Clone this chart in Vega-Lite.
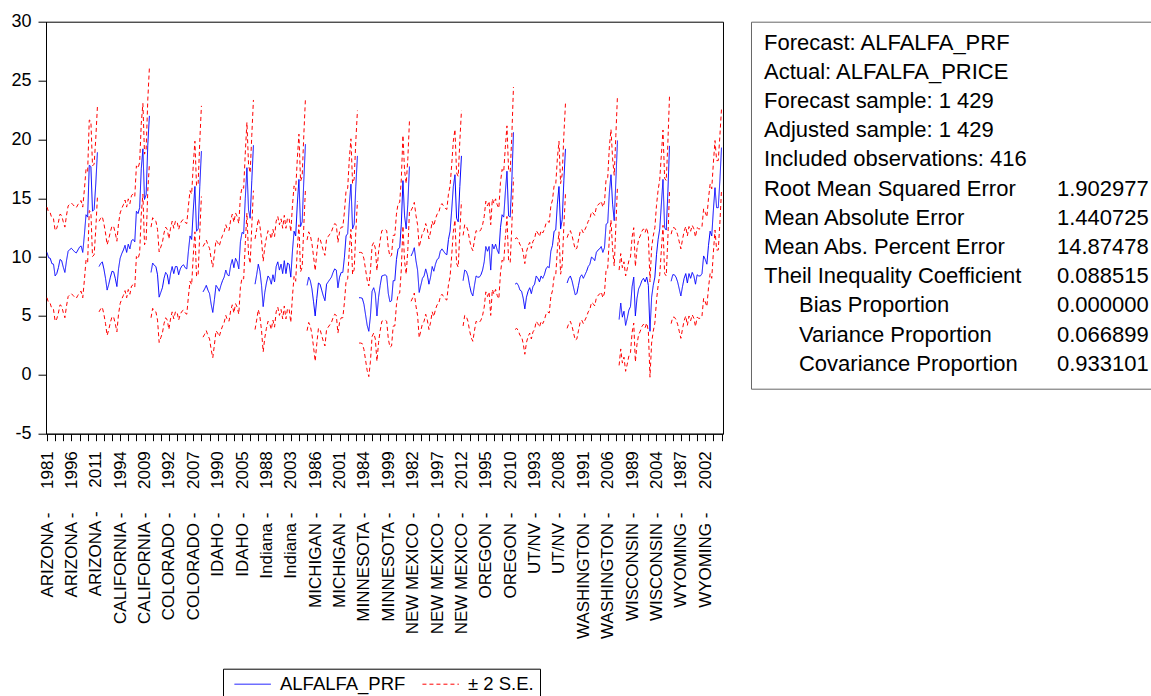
{
"$schema": "https://vega.github.io/schema/vega-lite/v6.json",
"padding": {"left": 10, "top": 11.7, "right": 0, "bottom": 0},
"spacing": 19,
"config": {
  "font": "Liberation Sans",
  "axis": {"labelFont": "Liberation Sans", "labelColor": "#000", "domainColor": "#000", "tickColor": "#000", "grid": false, "domainWidth": 1, "tickWidth": 1},
  "text": {"font": "Liberation Sans"}
},
"hconcat": [
{
  "width": 677,
  "height": 412,
  "view": {"stroke": "#000", "strokeWidth": 1},
  "data": {"values": [
{"i":1,"s":"AZ","f":10.4,"u":14.25,"l":6.55},{"i":2,"s":"AZ","f":9.95,"u":13.8,"l":6.1},{"i":3,"s":"AZ","f":9.9,"u":13.75,"l":6.05},{"i":4,"s":"AZ","f":9.45,"u":13.3,"l":5.6},{"i":5,"s":"AZ","f":9.4,"u":13.25,"l":5.55},{"i":6,"s":"AZ","f":8.4,"u":12.25,"l":4.55},{"i":7,"s":"AZ","f":8.6,"u":12.45,"l":4.75},{"i":8,"s":"AZ","f":9.1,"u":12.95,"l":5.25},{"i":9,"s":"AZ","f":9.8,"u":13.65,"l":5.95},{"i":10,"s":"AZ","f":9.7,"u":13.55,"l":5.85},{"i":11,"s":"AZ","f":9.15,"u":13.0,"l":5.3},{"i":12,"s":"AZ","f":8.7,"u":12.55,"l":4.85},{"i":13,"s":"AZ","f":9.7,"u":13.55,"l":5.85},{"i":14,"s":"AZ","f":10.5,"u":14.35,"l":6.65},{"i":15,"s":"AZ","f":10.65,"u":14.5,"l":6.8},{"i":16,"s":"AZ","f":10.75,"u":14.6,"l":6.9},{"i":17,"s":"AZ","f":10.6,"u":14.45,"l":6.75},{"i":18,"s":"AZ","f":10.45,"u":14.3,"l":6.6},{"i":19,"s":"AZ","f":10.35,"u":14.2,"l":6.5},{"i":20,"s":"AZ","f":10.6,"u":14.45,"l":6.75},{"i":21,"s":"AZ","f":10.85,"u":14.7,"l":7.0},{"i":22,"s":"AZ","f":10.95,"u":14.8,"l":7.1},{"i":23,"s":"AZ","f":10.4,"u":14.25,"l":6.55},{"i":24,"s":"AZ","f":11.9,"u":15.75,"l":8.05},{"i":25,"s":"AZ","f":13.6,"u":17.45,"l":9.75},{"i":26,"s":"AZ","f":13.4,"u":17.25,"l":9.55},{"i":27,"s":"AZ","f":17.8,"u":21.65,"l":13.95},{"i":28,"s":"AZ","f":17.7,"u":21.55,"l":13.85},{"i":29,"s":"AZ","f":13.9,"u":17.75,"l":10.05},{"i":30,"s":"AZ","f":14.05,"u":17.9,"l":10.2},{"i":31,"s":"AZ","f":16.2,"u":20.05,"l":12.35},{"i":32,"s":"AZ","f":18.9,"u":22.75,"l":15.05},
{"i":33,"s":"CA","f":9.2,"u":13.05,"l":5.35},{"i":34,"s":"CA","f":9.45,"u":13.3,"l":5.6},{"i":35,"s":"CA","f":9.6,"u":13.45,"l":5.75},{"i":36,"s":"CA","f":9.0,"u":12.85,"l":5.15},{"i":37,"s":"CA","f":8.2,"u":12.05,"l":4.35},{"i":38,"s":"CA","f":7.2,"u":11.05,"l":3.35},{"i":39,"s":"CA","f":7.7,"u":11.55,"l":3.85},{"i":40,"s":"CA","f":8.3,"u":12.15,"l":4.45},{"i":41,"s":"CA","f":8.8,"u":12.65,"l":4.95},{"i":42,"s":"CA","f":8.75,"u":12.6,"l":4.9},{"i":43,"s":"CA","f":8.2,"u":12.05,"l":4.35},{"i":44,"s":"CA","f":7.5,"u":11.35,"l":3.65},{"i":45,"s":"CA","f":9.0,"u":12.85,"l":5.15},{"i":46,"s":"CA","f":9.9,"u":13.75,"l":6.05},{"i":47,"s":"CA","f":10.3,"u":14.15,"l":6.45},{"i":48,"s":"CA","f":10.6,"u":14.45,"l":6.75},{"i":49,"s":"CA","f":11.0,"u":14.85,"l":7.15},{"i":50,"s":"CA","f":10.4,"u":14.25,"l":6.55},{"i":51,"s":"CA","f":11.1,"u":14.95,"l":7.25},{"i":52,"s":"CA","f":10.7,"u":14.55,"l":6.85},{"i":53,"s":"CA","f":11.4,"u":15.25,"l":7.55},{"i":54,"s":"CA","f":11.5,"u":15.35,"l":7.65},{"i":55,"s":"CA","f":11.3,"u":15.15,"l":7.45},{"i":56,"s":"CA","f":13.9,"u":17.75,"l":10.05},{"i":57,"s":"CA","f":13.7,"u":17.55,"l":9.85},{"i":58,"s":"CA","f":14.2,"u":18.05,"l":10.35},{"i":59,"s":"CA","f":17.5,"u":21.35,"l":13.65},{"i":60,"s":"CA","f":19.2,"u":23.05,"l":15.35},{"i":61,"s":"CA","f":14.9,"u":18.75,"l":11.05},{"i":62,"s":"CA","f":15.3,"u":19.15,"l":11.45},{"i":63,"s":"CA","f":19.5,"u":23.35,"l":15.65},{"i":64,"s":"CA","f":22.0,"u":26.1,"l":17.9},
{"i":65,"s":"CO","f":8.7,"u":12.55,"l":4.85},{"i":66,"s":"CO","f":9.5,"u":13.35,"l":5.65},{"i":67,"s":"CO","f":9.3,"u":13.15,"l":5.45},{"i":68,"s":"CO","f":9.2,"u":13.05,"l":5.35},{"i":69,"s":"CO","f":8.5,"u":12.35,"l":4.65},{"i":70,"s":"CO","f":6.6,"u":10.45,"l":2.75},{"i":71,"s":"CO","f":7.0,"u":10.85,"l":3.15},{"i":72,"s":"CO","f":7.4,"u":11.25,"l":3.55},{"i":73,"s":"CO","f":8.2,"u":12.05,"l":4.35},{"i":74,"s":"CO","f":8.7,"u":12.55,"l":4.85},{"i":75,"s":"CO","f":8.5,"u":12.35,"l":4.65},{"i":76,"s":"CO","f":7.7,"u":11.55,"l":3.85},{"i":77,"s":"CO","f":8.6,"u":12.45,"l":4.75},{"i":78,"s":"CO","f":9.2,"u":13.05,"l":5.35},{"i":79,"s":"CO","f":8.6,"u":12.45,"l":4.75},{"i":80,"s":"CO","f":9.2,"u":13.05,"l":5.35},{"i":81,"s":"CO","f":9.2,"u":13.05,"l":5.35},{"i":82,"s":"CO","f":8.5,"u":12.35,"l":4.65},{"i":83,"s":"CO","f":9.0,"u":12.85,"l":5.15},{"i":84,"s":"CO","f":9.25,"u":13.1,"l":5.4},{"i":85,"s":"CO","f":9.35,"u":13.2,"l":5.5},{"i":86,"s":"CO","f":9.1,"u":12.95,"l":5.25},{"i":87,"s":"CO","f":9.0,"u":12.85,"l":5.15},{"i":88,"s":"CO","f":10.5,"u":14.35,"l":6.65},{"i":89,"s":"CO","f":11.8,"u":15.65,"l":7.95},{"i":90,"s":"CO","f":11.5,"u":15.35,"l":7.65},{"i":91,"s":"CO","f":14.0,"u":17.85,"l":10.15},{"i":92,"s":"CO","f":16.0,"u":19.85,"l":12.15},{"i":93,"s":"CO","f":12.2,"u":16.05,"l":8.35},{"i":94,"s":"CO","f":12.4,"u":16.25,"l":8.55},{"i":95,"s":"CO","f":16.0,"u":19.85,"l":12.15},{"i":96,"s":"CO","f":19.0,"u":22.85,"l":15.15},
{"i":97,"s":"ID","f":7.05,"u":10.9,"l":3.2},{"i":98,"s":"ID","f":7.3,"u":11.15,"l":3.45},{"i":99,"s":"ID","f":7.6,"u":11.45,"l":3.75},{"i":100,"s":"ID","f":7.2,"u":11.05,"l":3.35},{"i":101,"s":"ID","f":6.9,"u":10.75,"l":3.05},{"i":102,"s":"ID","f":6.0,"u":9.85,"l":2.15},{"i":103,"s":"ID","f":5.3,"u":9.15,"l":1.45},{"i":104,"s":"ID","f":6.4,"u":10.25,"l":2.55},{"i":105,"s":"ID","f":7.6,"u":11.45,"l":3.75},{"i":106,"s":"ID","f":7.4,"u":11.25,"l":3.55},{"i":107,"s":"ID","f":7.1,"u":10.95,"l":3.25},{"i":108,"s":"ID","f":7.6,"u":11.45,"l":3.75},{"i":109,"s":"ID","f":8.0,"u":11.85,"l":4.15},{"i":110,"s":"ID","f":8.3,"u":12.15,"l":4.45},{"i":111,"s":"ID","f":8.9,"u":12.75,"l":5.05},{"i":112,"s":"ID","f":8.5,"u":12.35,"l":4.65},{"i":113,"s":"ID","f":8.4,"u":12.25,"l":4.55},{"i":114,"s":"ID","f":9.3,"u":13.15,"l":5.45},{"i":115,"s":"ID","f":9.8,"u":13.65,"l":5.95},{"i":116,"s":"ID","f":9.1,"u":12.95,"l":5.25},{"i":117,"s":"ID","f":9.9,"u":13.75,"l":6.05},{"i":118,"s":"ID","f":9.6,"u":13.45,"l":5.75},{"i":119,"s":"ID","f":9.0,"u":12.85,"l":5.15},{"i":120,"s":"ID","f":11.3,"u":15.15,"l":7.45},{"i":121,"s":"ID","f":12.1,"u":15.95,"l":8.25},{"i":122,"s":"ID","f":12.0,"u":15.85,"l":8.15},{"i":123,"s":"ID","f":15.0,"u":18.85,"l":11.15},{"i":124,"s":"ID","f":17.6,"u":21.45,"l":13.75},{"i":125,"s":"ID","f":14.0,"u":17.85,"l":10.15},{"i":126,"s":"ID","f":13.3,"u":17.15,"l":9.45},{"i":127,"s":"ID","f":16.5,"u":20.35,"l":12.65},{"i":128,"s":"ID","f":19.5,"u":23.35,"l":15.65},
{"i":129,"s":"IN","f":7.7,"u":11.55,"l":3.85},{"i":130,"s":"IN","f":8.5,"u":12.35,"l":4.65},{"i":131,"s":"IN","f":9.4,"u":13.25,"l":5.55},{"i":132,"s":"IN","f":8.8,"u":12.65,"l":4.95},{"i":133,"s":"IN","f":7.6,"u":11.45,"l":3.75},{"i":134,"s":"IN","f":5.8,"u":9.65,"l":1.95},{"i":135,"s":"IN","f":7.0,"u":10.85,"l":3.15},{"i":136,"s":"IN","f":7.8,"u":11.65,"l":3.95},{"i":137,"s":"IN","f":8.4,"u":12.25,"l":4.55},{"i":138,"s":"IN","f":8.2,"u":12.05,"l":4.35},{"i":139,"s":"IN","f":7.7,"u":11.55,"l":3.85},{"i":140,"s":"IN","f":8.5,"u":12.35,"l":4.65},{"i":141,"s":"IN","f":7.9,"u":11.75,"l":4.05},{"i":142,"s":"IN","f":9.2,"u":13.05,"l":5.35},{"i":143,"s":"IN","f":9.6,"u":13.45,"l":5.75},{"i":144,"s":"IN","f":8.9,"u":12.75,"l":5.05},{"i":145,"s":"IN","f":9.4,"u":13.25,"l":5.55},{"i":146,"s":"IN","f":8.6,"u":12.45,"l":4.75},{"i":147,"s":"IN","f":9.7,"u":13.55,"l":5.85},{"i":148,"s":"IN","f":8.6,"u":12.45,"l":4.75},{"i":149,"s":"IN","f":9.5,"u":13.35,"l":5.65},{"i":150,"s":"IN","f":9.4,"u":13.25,"l":5.55},{"i":151,"s":"IN","f":8.3,"u":12.15,"l":4.45},{"i":152,"s":"IN","f":10.5,"u":14.35,"l":6.65},{"i":153,"s":"IN","f":12.2,"u":16.05,"l":8.35},{"i":154,"s":"IN","f":11.8,"u":15.65,"l":7.95},{"i":155,"s":"IN","f":14.5,"u":18.35,"l":10.65},{"i":156,"s":"IN","f":16.6,"u":20.45,"l":12.75},{"i":157,"s":"IN","f":12.6,"u":16.45,"l":8.75},{"i":158,"s":"IN","f":13.0,"u":16.85,"l":9.15},{"i":159,"s":"IN","f":16.5,"u":20.35,"l":12.65},{"i":160,"s":"IN","f":19.6,"u":23.45,"l":15.75},
{"i":161,"s":"MI","f":7.6,"u":11.45,"l":3.75},{"i":162,"s":"MI","f":8.3,"u":12.15,"l":4.45},{"i":163,"s":"MI","f":8.0,"u":11.85,"l":4.15},{"i":164,"s":"MI","f":7.3,"u":11.15,"l":3.45},{"i":165,"s":"MI","f":6.2,"u":10.05,"l":2.35},{"i":166,"s":"MI","f":5.0,"u":8.85,"l":1.15},{"i":167,"s":"MI","f":6.5,"u":10.35,"l":2.65},{"i":168,"s":"MI","f":7.8,"u":11.65,"l":3.95},{"i":169,"s":"MI","f":7.7,"u":11.55,"l":3.85},{"i":170,"s":"MI","f":7.2,"u":11.05,"l":3.35},{"i":171,"s":"MI","f":6.7,"u":10.55,"l":2.85},{"i":172,"s":"MI","f":6.3,"u":10.15,"l":2.45},{"i":173,"s":"MI","f":7.7,"u":11.55,"l":3.85},{"i":174,"s":"MI","f":7.9,"u":11.75,"l":4.05},{"i":175,"s":"MI","f":8.1,"u":11.95,"l":4.25},{"i":176,"s":"MI","f":8.3,"u":12.15,"l":4.45},{"i":177,"s":"MI","f":8.7,"u":12.55,"l":4.85},{"i":178,"s":"MI","f":9.0,"u":12.85,"l":5.15},{"i":179,"s":"MI","f":8.9,"u":12.75,"l":5.05},{"i":180,"s":"MI","f":7.4,"u":11.25,"l":3.55},{"i":181,"s":"MI","f":8.3,"u":12.15,"l":4.45},{"i":182,"s":"MI","f":8.7,"u":12.55,"l":4.85},{"i":183,"s":"MI","f":8.7,"u":12.55,"l":4.85},{"i":184,"s":"MI","f":10.0,"u":13.85,"l":6.15},{"i":185,"s":"MI","f":11.8,"u":15.65,"l":7.95},{"i":186,"s":"MI","f":12.0,"u":15.85,"l":8.15},{"i":187,"s":"MI","f":14.5,"u":18.35,"l":10.65},{"i":188,"s":"MI","f":16.2,"u":20.05,"l":12.35},{"i":189,"s":"MI","f":12.4,"u":16.25,"l":8.55},{"i":190,"s":"MI","f":12.8,"u":16.65,"l":8.95},{"i":191,"s":"MI","f":16.0,"u":19.85,"l":12.15},{"i":192,"s":"MI","f":18.6,"u":22.45,"l":14.75},
{"i":193,"s":"MN","f":6.55,"u":10.4,"l":2.7},{"i":194,"s":"MN","f":6.55,"u":10.4,"l":2.7},{"i":195,"s":"MN","f":6.5,"u":10.35,"l":2.65},{"i":196,"s":"MN","f":6.0,"u":9.85,"l":2.15},{"i":197,"s":"MN","f":5.1,"u":8.95,"l":1.25},{"i":198,"s":"MN","f":4.2,"u":8.05,"l":0.35},{"i":199,"s":"MN","f":3.7,"u":7.55,"l":-0.15},{"i":200,"s":"MN","f":5.0,"u":8.85,"l":1.15},{"i":201,"s":"MN","f":7.1,"u":10.95,"l":3.25},{"i":202,"s":"MN","f":7.4,"u":11.25,"l":3.55},{"i":203,"s":"MN","f":6.9,"u":10.75,"l":3.05},{"i":204,"s":"MN","f":5.0,"u":8.85,"l":1.15},{"i":205,"s":"MN","f":6.6,"u":10.45,"l":2.75},{"i":206,"s":"MN","f":7.6,"u":11.45,"l":3.75},{"i":207,"s":"MN","f":8.4,"u":12.25,"l":4.55},{"i":208,"s":"MN","f":8.45,"u":12.3,"l":4.6},{"i":209,"s":"MN","f":8.5,"u":12.35,"l":4.65},{"i":210,"s":"MN","f":8.4,"u":12.25,"l":4.55},{"i":211,"s":"MN","f":6.9,"u":10.75,"l":3.05},{"i":212,"s":"MN","f":6.2,"u":10.05,"l":2.35},{"i":213,"s":"MN","f":6.3,"u":10.15,"l":2.45},{"i":214,"s":"MN","f":8.0,"u":11.85,"l":4.15},{"i":215,"s":"MN","f":8.0,"u":11.85,"l":4.15},{"i":216,"s":"MN","f":9.8,"u":13.65,"l":5.95},{"i":217,"s":"MN","f":10.7,"u":14.55,"l":6.85},{"i":218,"s":"MN","f":10.8,"u":14.65,"l":6.95},{"i":219,"s":"MN","f":12.8,"u":16.65,"l":8.95},{"i":220,"s":"MN","f":16.5,"u":20.35,"l":12.65},{"i":221,"s":"MN","f":13.5,"u":17.35,"l":9.65},{"i":222,"s":"MN","f":12.4,"u":16.25,"l":8.55},{"i":223,"s":"MN","f":14.5,"u":18.35,"l":10.65},{"i":224,"s":"MN","f":17.7,"u":21.55,"l":13.85},
{"i":225,"s":"NM","f":10.1,"u":13.95,"l":6.25},{"i":226,"s":"NM","f":10.4,"u":14.25,"l":6.55},{"i":227,"s":"NM","f":10.8,"u":14.65,"l":6.95},{"i":228,"s":"NM","f":9.7,"u":13.55,"l":5.85},{"i":229,"s":"NM","f":8.9,"u":12.75,"l":5.05},{"i":230,"s":"NM","f":7.0,"u":10.85,"l":3.15},{"i":231,"s":"NM","f":7.6,"u":11.45,"l":3.75},{"i":232,"s":"NM","f":8.2,"u":12.05,"l":4.35},{"i":233,"s":"NM","f":8.4,"u":12.25,"l":4.55},{"i":234,"s":"NM","f":9.0,"u":12.85,"l":5.15},{"i":235,"s":"NM","f":8.5,"u":12.35,"l":4.65},{"i":236,"s":"NM","f":7.7,"u":11.55,"l":3.85},{"i":237,"s":"NM","f":8.3,"u":12.15,"l":4.45},{"i":238,"s":"NM","f":9.2,"u":13.05,"l":5.35},{"i":239,"s":"NM","f":8.8,"u":12.65,"l":4.95},{"i":240,"s":"NM","f":9.4,"u":13.25,"l":5.55},{"i":241,"s":"NM","f":9.8,"u":13.65,"l":5.95},{"i":242,"s":"NM","f":9.9,"u":13.75,"l":6.05},{"i":243,"s":"NM","f":10.5,"u":14.35,"l":6.65},{"i":244,"s":"NM","f":10.7,"u":14.55,"l":6.85},{"i":245,"s":"NM","f":10.5,"u":14.35,"l":6.65},{"i":246,"s":"NM","f":10.3,"u":14.15,"l":6.45},{"i":247,"s":"NM","f":10.2,"u":14.05,"l":6.35},{"i":248,"s":"NM","f":11.5,"u":15.35,"l":7.65},{"i":249,"s":"NM","f":12.2,"u":16.05,"l":8.35},{"i":250,"s":"NM","f":14.0,"u":17.85,"l":10.15},{"i":251,"s":"NM","f":16.0,"u":19.85,"l":12.15},{"i":252,"s":"NM","f":17.0,"u":20.85,"l":13.15},{"i":253,"s":"NM","f":13.3,"u":17.15,"l":9.45},{"i":254,"s":"NM","f":13.0,"u":16.85,"l":9.15},{"i":255,"s":"NM","f":16.0,"u":19.85,"l":12.15},{"i":256,"s":"NM","f":18.6,"u":22.45,"l":14.75},
{"i":257,"s":"OR","f":8.0,"u":11.85,"l":4.15},{"i":258,"s":"OR","f":8.9,"u":12.75,"l":5.05},{"i":259,"s":"OR","f":8.8,"u":12.65,"l":4.95},{"i":260,"s":"OR","f":8.4,"u":12.25,"l":4.55},{"i":261,"s":"OR","f":7.6,"u":11.45,"l":3.75},{"i":262,"s":"OR","f":7.0,"u":10.85,"l":3.15},{"i":263,"s":"OR","f":6.7,"u":10.55,"l":2.85},{"i":264,"s":"OR","f":7.6,"u":11.45,"l":3.75},{"i":265,"s":"OR","f":8.4,"u":12.25,"l":4.55},{"i":266,"s":"OR","f":8.3,"u":12.15,"l":4.45},{"i":267,"s":"OR","f":8.3,"u":12.15,"l":4.45},{"i":268,"s":"OR","f":8.5,"u":12.35,"l":4.65},{"i":269,"s":"OR","f":8.9,"u":12.75,"l":5.05},{"i":270,"s":"OR","f":9.6,"u":13.45,"l":5.75},{"i":271,"s":"OR","f":10.9,"u":14.75,"l":7.05},{"i":272,"s":"OR","f":10.5,"u":14.35,"l":6.65},{"i":273,"s":"OR","f":10.9,"u":14.75,"l":7.05},{"i":274,"s":"OR","f":8.9,"u":12.75,"l":5.05},{"i":275,"s":"OR","f":11.1,"u":14.95,"l":7.25},{"i":276,"s":"OR","f":10.7,"u":14.55,"l":6.85},{"i":277,"s":"OR","f":11.1,"u":14.95,"l":7.25},{"i":278,"s":"OR","f":10.6,"u":14.45,"l":6.75},{"i":279,"s":"OR","f":10.3,"u":14.15,"l":6.45},{"i":280,"s":"OR","f":12.5,"u":16.35,"l":8.65},{"i":281,"s":"OR","f":13.6,"u":17.45,"l":9.75},{"i":282,"s":"OR","f":13.4,"u":17.25,"l":9.55},{"i":283,"s":"OR","f":15.5,"u":19.35,"l":11.65},{"i":284,"s":"OR","f":17.3,"u":21.15,"l":13.45},{"i":285,"s":"OR","f":13.5,"u":17.35,"l":9.65},{"i":286,"s":"OR","f":13.4,"u":17.25,"l":9.55},{"i":287,"s":"OR","f":16.5,"u":20.35,"l":12.65},{"i":288,"s":"OR","f":20.6,"u":24.45,"l":16.75},
{"i":289,"s":"UT","f":7.7,"u":11.55,"l":3.85},{"i":290,"s":"UT","f":7.8,"u":11.65,"l":3.95},{"i":291,"s":"UT","f":7.6,"u":11.45,"l":3.75},{"i":292,"s":"UT","f":7.2,"u":11.05,"l":3.35},{"i":293,"s":"UT","f":7.1,"u":10.95,"l":3.25},{"i":294,"s":"UT","f":6.5,"u":10.35,"l":2.65},{"i":295,"s":"UT","f":5.6,"u":9.45,"l":1.75},{"i":296,"s":"UT","f":6.6,"u":10.45,"l":2.75},{"i":297,"s":"UT","f":7.1,"u":10.95,"l":3.25},{"i":298,"s":"UT","f":7.4,"u":11.25,"l":3.55},{"i":299,"s":"UT","f":6.9,"u":10.75,"l":3.05},{"i":300,"s":"UT","f":7.5,"u":11.35,"l":3.65},{"i":301,"s":"UT","f":7.7,"u":11.55,"l":3.85},{"i":302,"s":"UT","f":8.4,"u":12.25,"l":4.55},{"i":303,"s":"UT","f":8.2,"u":12.05,"l":4.35},{"i":304,"s":"UT","f":7.9,"u":11.75,"l":4.05},{"i":305,"s":"UT","f":8.4,"u":12.25,"l":4.55},{"i":306,"s":"UT","f":8.2,"u":12.05,"l":4.35},{"i":307,"s":"UT","f":8.5,"u":12.35,"l":4.65},{"i":308,"s":"UT","f":9.0,"u":12.85,"l":5.15},{"i":309,"s":"UT","f":9.2,"u":13.05,"l":5.35},{"i":310,"s":"UT","f":9.1,"u":12.95,"l":5.25},{"i":311,"s":"UT","f":10.5,"u":14.35,"l":6.65},{"i":312,"s":"UT","f":11.0,"u":14.85,"l":7.15},{"i":313,"s":"UT","f":12.2,"u":16.05,"l":8.35},{"i":314,"s":"UT","f":12.3,"u":16.15,"l":8.45},{"i":315,"s":"UT","f":14.5,"u":18.35,"l":10.65},{"i":316,"s":"UT","f":16.0,"u":19.85,"l":12.15},{"i":317,"s":"UT","f":12.4,"u":16.25,"l":8.55},{"i":318,"s":"UT","f":13.2,"u":17.05,"l":9.35},{"i":319,"s":"UT","f":16.5,"u":20.35,"l":12.65},{"i":320,"s":"UT","f":19.2,"u":23.05,"l":15.35},
{"i":321,"s":"WA","f":7.8,"u":11.65,"l":3.95},{"i":322,"s":"WA","f":8.2,"u":12.05,"l":4.35},{"i":323,"s":"WA","f":8.4,"u":12.25,"l":4.55},{"i":324,"s":"WA","f":8.0,"u":11.85,"l":4.15},{"i":325,"s":"WA","f":7.4,"u":11.25,"l":3.55},{"i":326,"s":"WA","f":6.8,"u":10.65,"l":2.95},{"i":327,"s":"WA","f":6.9,"u":10.75,"l":3.05},{"i":328,"s":"WA","f":7.6,"u":11.45,"l":3.75},{"i":329,"s":"WA","f":8.3,"u":12.15,"l":4.45},{"i":330,"s":"WA","f":8.5,"u":12.35,"l":4.65},{"i":331,"s":"WA","f":8.2,"u":12.05,"l":4.35},{"i":332,"s":"WA","f":8.5,"u":12.35,"l":4.65},{"i":333,"s":"WA","f":8.8,"u":12.65,"l":4.95},{"i":334,"s":"WA","f":9.2,"u":13.05,"l":5.35},{"i":335,"s":"WA","f":9.4,"u":13.25,"l":5.55},{"i":336,"s":"WA","f":10.0,"u":13.85,"l":6.15},{"i":337,"s":"WA","f":9.9,"u":13.75,"l":6.05},{"i":338,"s":"WA","f":9.7,"u":13.55,"l":5.85},{"i":339,"s":"WA","f":10.4,"u":14.25,"l":6.55},{"i":340,"s":"WA","f":10.6,"u":14.45,"l":6.75},{"i":341,"s":"WA","f":10.7,"u":14.55,"l":6.85},{"i":342,"s":"WA","f":10.9,"u":14.75,"l":7.05},{"i":343,"s":"WA","f":10.4,"u":14.25,"l":6.55},{"i":344,"s":"WA","f":10.8,"u":14.65,"l":6.95},{"i":345,"s":"WA","f":12.8,"u":16.65,"l":8.95},{"i":346,"s":"WA","f":12.9,"u":16.75,"l":9.05},{"i":347,"s":"WA","f":15.5,"u":19.35,"l":11.65},{"i":348,"s":"WA","f":17.0,"u":20.85,"l":13.15},{"i":349,"s":"WA","f":14.5,"u":18.35,"l":10.65},{"i":350,"s":"WA","f":13.1,"u":16.95,"l":9.25},{"i":351,"s":"WA","f":16.5,"u":20.35,"l":12.65},{"i":352,"s":"WA","f":19.9,"u":23.75,"l":16.05},
{"i":353,"s":"WI","f":4.7,"u":8.9,"l":0.8},{"i":354,"s":"WI","f":6.1,"u":10.3,"l":2.2},{"i":355,"s":"WI","f":4.9,"u":9.1,"l":1.0},{"i":356,"s":"WI","f":5.4,"u":9.6,"l":1.5},{"i":357,"s":"WI","f":4.2,"u":8.4,"l":0.3},{"i":358,"s":"WI","f":4.8,"u":9.0,"l":0.9},{"i":359,"s":"WI","f":5.5,"u":9.7,"l":1.6},{"i":360,"s":"WI","f":5.8,"u":10.0,"l":1.9},{"i":361,"s":"WI","f":7.5,"u":11.7,"l":3.6},{"i":362,"s":"WI","f":8.3,"u":12.5,"l":4.4},{"i":363,"s":"WI","f":5.0,"u":9.2,"l":1.1},{"i":364,"s":"WI","f":6.5,"u":10.7,"l":2.6},{"i":365,"s":"WI","f":7.3,"u":11.5,"l":3.4},{"i":366,"s":"WI","f":7.6,"u":11.8,"l":3.7},{"i":367,"s":"WI","f":8.0,"u":12.2,"l":4.1},{"i":368,"s":"WI","f":8.2,"u":12.4,"l":4.3},{"i":369,"s":"WI","f":7.9,"u":12.1,"l":4.0},{"i":370,"s":"WI","f":8.3,"u":12.5,"l":4.4},{"i":371,"s":"WI","f":7.6,"u":11.8,"l":3.7},{"i":372,"s":"WI","f":3.7,"u":7.9,"l":-0.2},{"i":373,"s":"WI","f":6.6,"u":10.8,"l":2.7},{"i":374,"s":"WI","f":7.6,"u":11.8,"l":3.7},{"i":375,"s":"WI","f":8.3,"u":12.5,"l":4.4},{"i":376,"s":"WI","f":10.2,"u":14.4,"l":6.3},{"i":377,"s":"WI","f":11.5,"u":15.7,"l":7.6},{"i":378,"s":"WI","f":12.4,"u":16.6,"l":8.5},{"i":379,"s":"WI","f":14.5,"u":18.7,"l":10.6},{"i":380,"s":"WI","f":16.6,"u":20.8,"l":12.7},{"i":381,"s":"WI","f":12.5,"u":16.7,"l":8.6},{"i":382,"s":"WI","f":12.3,"u":16.5,"l":8.4},{"i":383,"s":"WI","f":15.5,"u":19.7,"l":11.6},{"i":384,"s":"WI","f":19.45,"u":23.65,"l":15.55},
{"i":385,"s":"WY","f":7.95,"u":11.95,"l":4.35},{"i":386,"s":"WY","f":8.5,"u":12.5,"l":4.9},{"i":387,"s":"WY","f":8.5,"u":12.5,"l":4.9},{"i":388,"s":"WY","f":8.3,"u":12.3,"l":4.7},{"i":389,"s":"WY","f":7.9,"u":11.9,"l":4.3},{"i":390,"s":"WY","f":7.3,"u":11.3,"l":3.7},{"i":391,"s":"WY","f":6.7,"u":10.7,"l":3.1},{"i":392,"s":"WY","f":7.5,"u":11.5,"l":3.9},{"i":393,"s":"WY","f":8.2,"u":12.2,"l":4.6},{"i":394,"s":"WY","f":8.6,"u":12.6,"l":5.0},{"i":395,"s":"WY","f":7.8,"u":11.8,"l":4.2},{"i":396,"s":"WY","f":8.6,"u":12.6,"l":5.0},{"i":397,"s":"WY","f":8.2,"u":12.2,"l":4.6},{"i":398,"s":"WY","f":8.7,"u":12.7,"l":5.1},{"i":399,"s":"WY","f":8.4,"u":12.4,"l":4.8},{"i":400,"s":"WY","f":7.7,"u":11.7,"l":4.1},{"i":401,"s":"WY","f":8.5,"u":12.5,"l":4.9},{"i":402,"s":"WY","f":8.4,"u":12.4,"l":4.8},{"i":403,"s":"WY","f":8.4,"u":12.4,"l":4.8},{"i":404,"s":"WY","f":8.6,"u":12.6,"l":5.0},{"i":405,"s":"WY","f":10.1,"u":14.1,"l":6.5},{"i":406,"s":"WY","f":9.8,"u":13.8,"l":6.2},{"i":407,"s":"WY","f":9.4,"u":13.4,"l":5.8},{"i":408,"s":"WY","f":11.0,"u":15.0,"l":7.4},{"i":409,"s":"WY","f":12.2,"u":16.2,"l":8.6},{"i":410,"s":"WY","f":11.8,"u":15.8,"l":8.2},{"i":411,"s":"WY","f":14.0,"u":18.0,"l":10.4},{"i":412,"s":"WY","f":15.9,"u":19.9,"l":12.3},{"i":413,"s":"WY","f":14.2,"u":18.2,"l":10.6},{"i":414,"s":"WY","f":14.2,"u":18.2,"l":10.6},{"i":415,"s":"WY","f":16.5,"u":20.3,"l":12.9},{"i":416,"s":"WY","f":19.3,"u":22.6,"l":15.7}
  ]},
  "transform": [{"fold": ["f", "u", "l"], "as": ["k", "v"]}],
  "mark": {"type": "line", "strokeWidth": 1},
  "encoding": {
    "x": {"field": "i", "type": "quantitative",
      "scale": {"domain": [0.385, 416.92], "nice": false, "zero": false},
      "axis": {"title": null, "values": [1,6,11,16,21,26,31,36,41,46,51,56,61,66,71,76,81,86,91,96,101,106,111,116,121,126,131,136,141,146,151,156,161,166,171,176,181,186,191,196,201,206,211,216,221,226,231,236,241,246,251,256,261,266,271,276,281,286,291,296,301,306,311,316,321,326,331,336,341,346,351,356,361,366,371,376,381,386,391,396,401,406,411,416],
        "labelExpr": "(datum.value-1)%15==0 ? ['ARIZONA','CALIFORNIA','COLORADO','IDAHO','Indiana','MICHIGAN','MINNESOTA','NEW MEXICO','OREGON','UT/NV','WASHINGTON','WISCONSIN','WYOMING'][floor((datum.value-1)/32)] + ' -\u00a0\u00a0\u00a0\u00a0\u00a0' + (1981 + (datum.value-1)%32) : ''",
        "labelAngle": -90, "labelAlign": "right", "labelBaseline": "middle", "labelFontSize": 17, "labelPadding": 10, "tickSize": 7, "labelLimit": 400,
        "labelOverlap": false, "labelFlush": false, "labelBound": false}},
    "y": {"field": "v", "type": "quantitative",
      "scale": {"domain": [-5, 30], "nice": false, "zero": false},
      "axis": {"title": null, "values": [-5,0,5,10,15,20,25,30], "labelExpr": "'' + datum.value", "labelFontSize": 18, "tickSize": 8, "labelPadding": 7, "labelOverlap": false, "labelFlush": false}},
    "color": {"field": "k", "type": "nominal",
      "scale": {"domain": ["f", "u", "l"], "range": ["#0000ff", "#ff0000", "#ff0000"]},
      "legend": {"orient": "none", "legendX": 177, "legendY": 647, "direction": "horizontal", "title": null, "values": ["f", "u"],
        "labelExpr": "datum.label == 'f' ? 'ALFALFA_PRF' : '± 2 S.E.'",
        "symbolType": "M-0.45,0H3.6", "symbolSize": 324, "symbolStrokeWidth": 1,
        "labelFontSize": 18.5, "labelFont": "Liberation Sans", "labelColor": "#000", "labelOffset": 32,
        "columnPadding": 11, "padding": 6, "strokeColor": "#000", "fillColor": "#fff"}},
    "strokeDash": {"field": "k", "type": "nominal",
      "scale": {"domain": ["f", "u", "l"], "range": [[1, 0], [4, 3], [4, 3]]},
      "legend": {"orient": "none", "legendX": 177, "legendY": 647, "direction": "horizontal", "title": null, "values": ["f", "u"],
        "labelExpr": "datum.label == 'f' ? 'ALFALFA_PRF' : '± 2 S.E.'",
        "symbolType": "M-0.45,0H3.6", "symbolSize": 324, "symbolStrokeWidth": 1,
        "labelFontSize": 18.5, "labelFont": "Liberation Sans", "labelColor": "#000", "labelOffset": 32,
        "columnPadding": 11, "padding": 6, "strokeColor": "#000", "fillColor": "#fff"}},
    "detail": {"field": "s", "type": "nominal"}
  }
},
{
  "width": 410,
  "height": 367,
  "view": {"stroke": "#666", "strokeWidth": 1},
  "title": {"text": "\u00a0", "fontSize": 1, "offset": 7},
  "data": {"values": [
    {"r": 1, "c": "label", "n": "no", "t": "Forecast: ALFALFA_PRF"},
    {"r": 2, "c": "label", "n": "no", "t": "Actual: ALFALFA_PRICE"},
    {"r": 3, "c": "label", "n": "no", "t": "Forecast sample: 1 429"},
    {"r": 4, "c": "label", "n": "no", "t": "Adjusted sample: 1 429"},
    {"r": 5, "c": "label", "n": "no", "t": "Included observations: 416"},
    {"r": 6, "c": "label", "n": "no", "t": "Root Mean Squared Error"},
    {"r": 6, "c": "value", "n": "no", "t": "1.902977"},
    {"r": 7, "c": "label", "n": "no", "t": "Mean Absolute Error"},
    {"r": 7, "c": "value", "n": "no", "t": "1.440725"},
    {"r": 8, "c": "label", "n": "no", "t": "Mean Abs. Percent Error"},
    {"r": 8, "c": "value", "n": "no", "t": "14.87478"},
    {"r": 9, "c": "label", "n": "no", "t": "Theil Inequality Coefficient"},
    {"r": 9, "c": "value", "n": "no", "t": "0.088515"},
    {"r": 10, "c": "label", "n": "yes", "t": "Bias Proportion"},
    {"r": 10, "c": "value", "n": "no", "t": "0.000000"},
    {"r": 11, "c": "label", "n": "yes", "t": "Variance Proportion"},
    {"r": 11, "c": "value", "n": "no", "t": "0.066899"},
    {"r": 12, "c": "label", "n": "yes", "t": "Covariance Proportion"},
    {"r": 12, "c": "value", "n": "no", "t": "0.933101"}
  ]},
  "mark": {"type": "text", "align": "left", "baseline": "alphabetic", "fontSize": 22, "font": "Liberation Sans", "color": "#000"},
  "encoding": {
    "x": {"field": "c", "type": "nominal", "scale": {"type": "point", "domain": ["label", "value"], "range": [13, 306], "padding": 0}, "axis": null},
    "xOffset": {"field": "n", "type": "nominal", "scale": {"type": "point", "domain": ["no", "yes"], "range": [0, 35], "padding": 0}},
    "y": {"field": "r", "type": "ordinal", "scale": {"type": "point", "domain": [1,2,3,4,5,6,7,8,9,10,11,12], "range": [28, 349.2], "padding": 0}, "axis": null},
    "text": {"field": "t", "type": "nominal"}
  }
}
]
}
